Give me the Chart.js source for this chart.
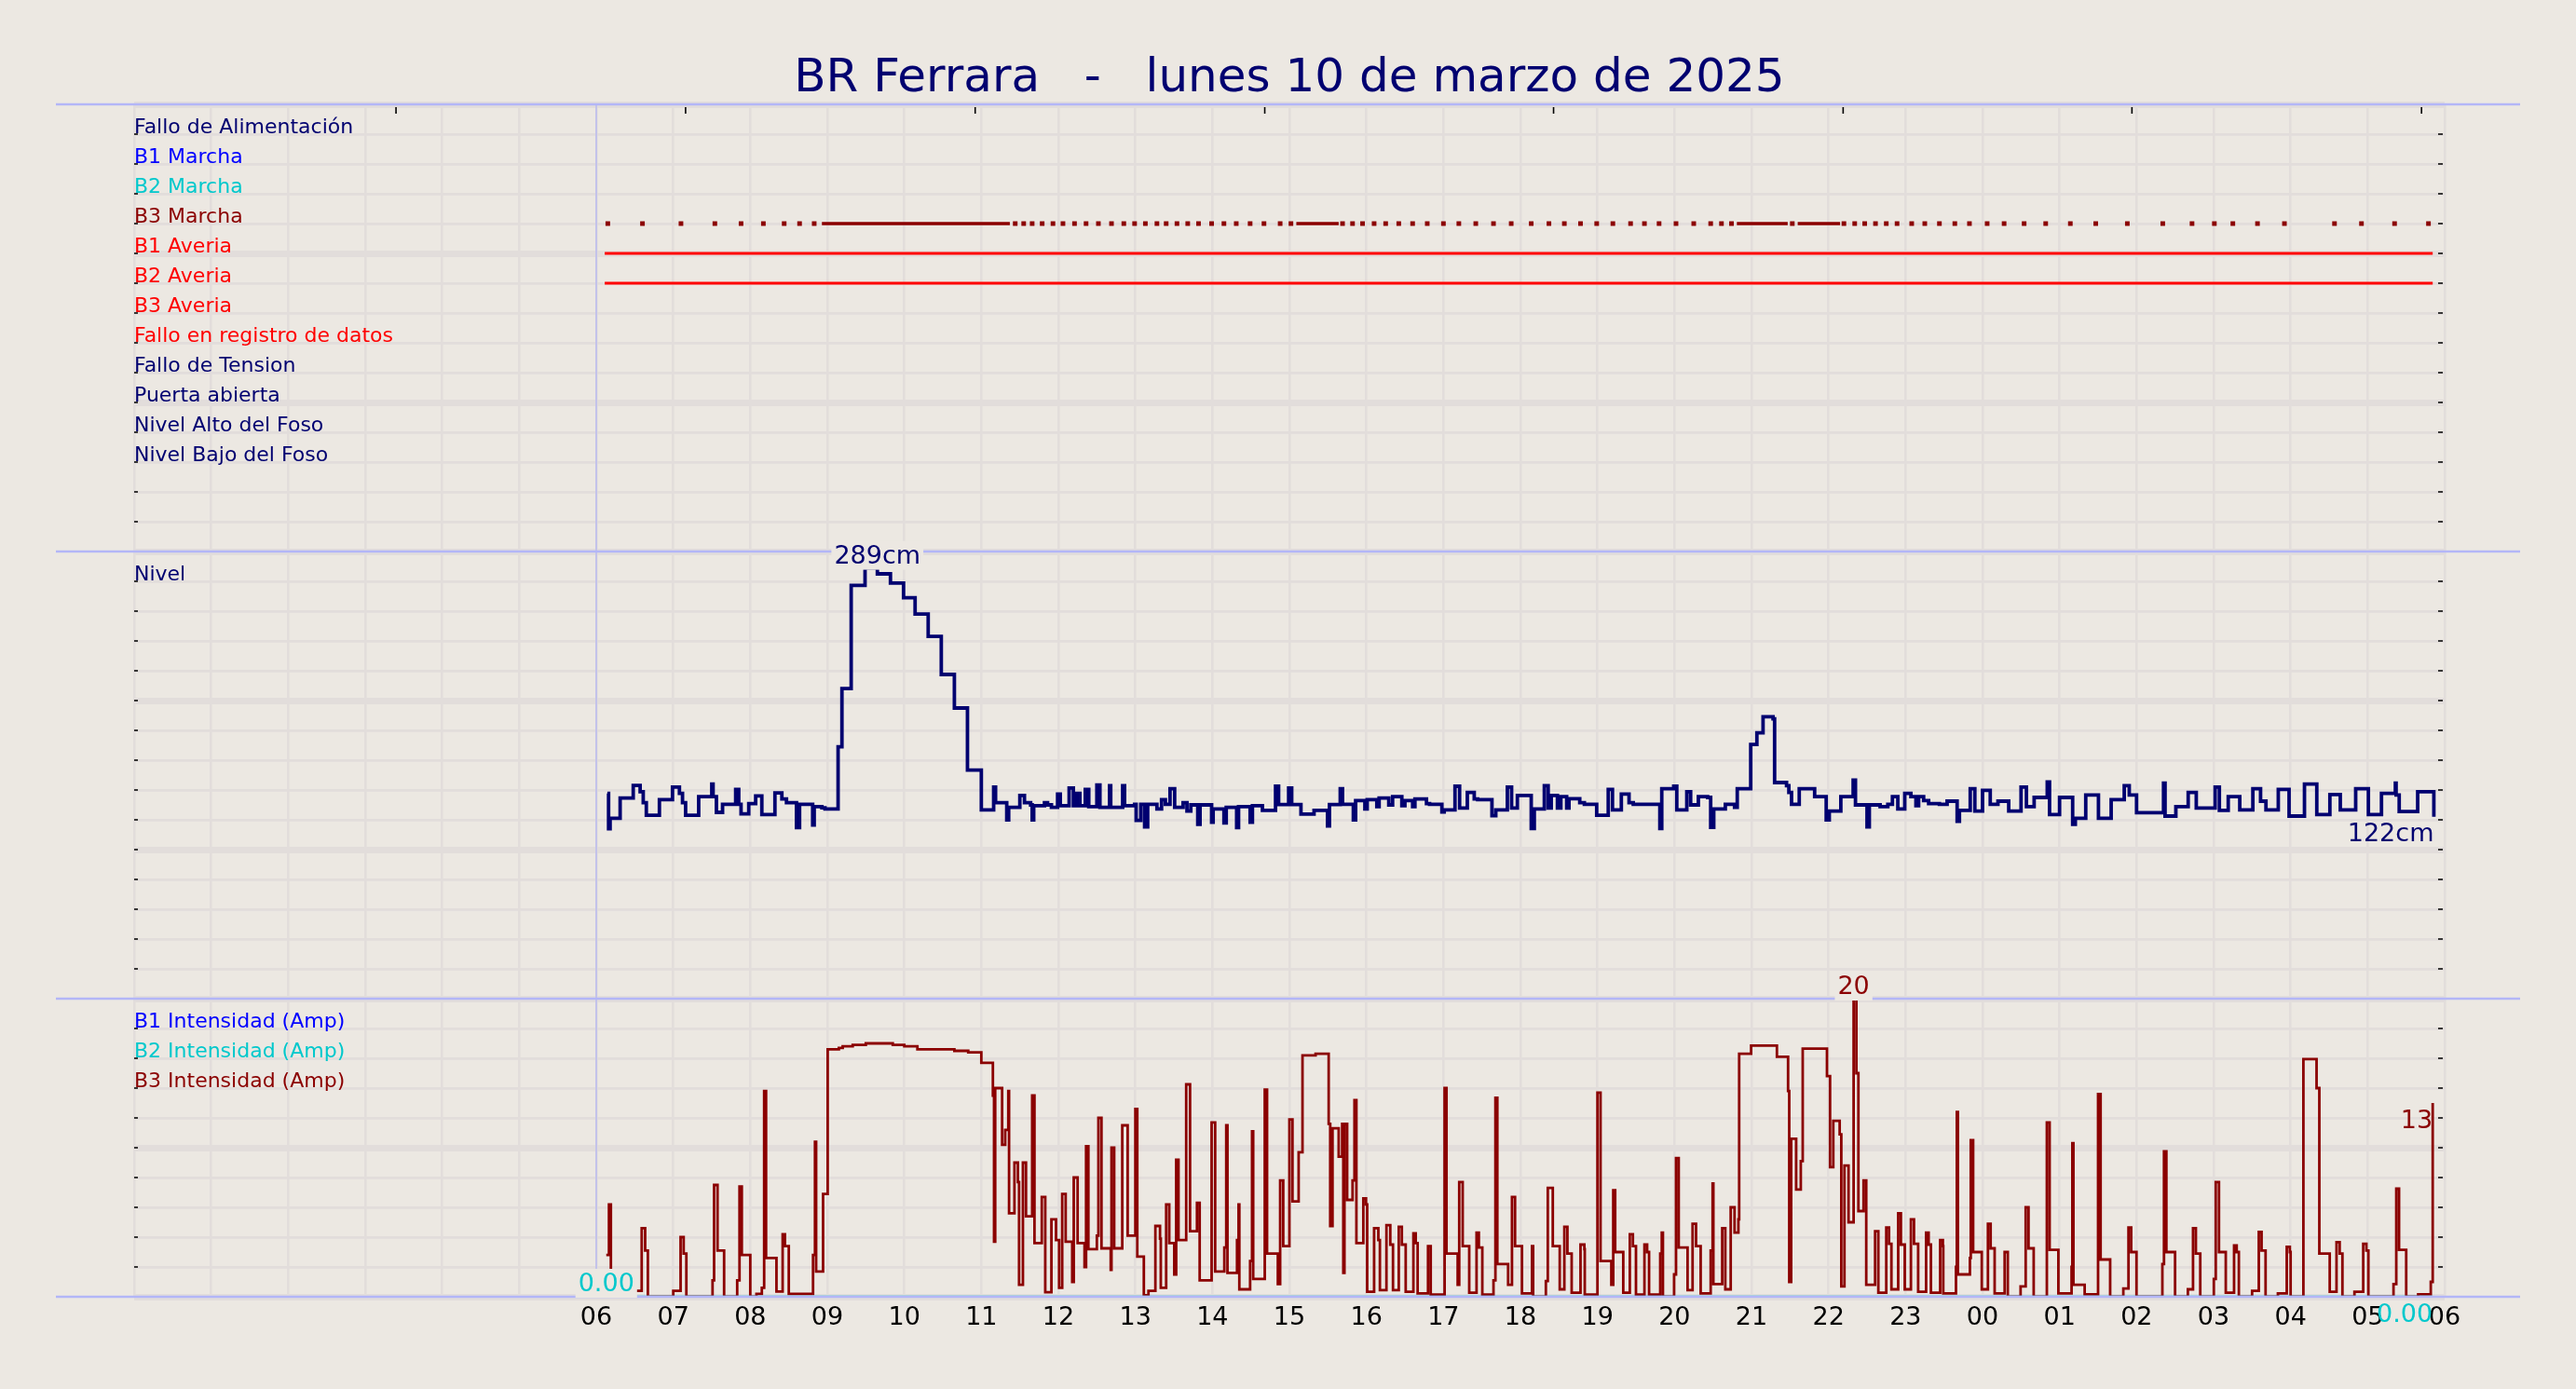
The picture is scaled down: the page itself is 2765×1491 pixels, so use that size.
<!DOCTYPE html>
<html>
<head>
<meta charset="utf-8">
<script src="https://cdn.jsdelivr.net/npm/chart.js@4.4.1/dist/chart.umd.min.js"></script>
<style>
  html, body { margin: 0; padding: 0; background: #ece8e2; }
  canvas { display: block; }
</style>
</head>
<body>
<canvas id="grafico" width="2765" height="1491"></canvas>
<script>
// --- datos ---
const titulo = 'BR Ferrara   -   lunes 10 de marzo de 2025';

const estados = ['Fallo de Alimentación', 'B1 Marcha', 'B2 Marcha', 'B3 Marcha', 'B1 Averia', 'B2 Averia',
  'B3 Averia', 'Fallo en registro de datos', 'Fallo de Tension', 'Puerta abierta', 'Nivel Alto del Foso', 'Nivel Bajo del Foso'];
const estadosColor = ['#000070', '#0000ff', '#00c8cc', '#8b0000', '#ff0000', '#ff0000',
  '#ff0000', '#ff0000', '#000070', '#000070', '#000070', '#000070'];
const estadosFila = [14, 13, 12, 11, 10, 9, 8, 7, 6, 5, 4, 3];

const intensidades = ['B1 Intensidad (Amp)', 'B2 Intensidad (Amp)', 'B3 Intensidad (Amp)'];
const intensidadesColor = ['#0000ff', '#00c8cc', '#8b0000'];
const intensidadesFila = [18, 16, 14];

// eje x: horas desde las 00:00 del día 10
const horasEtiquetas = ['06', '07', '08', '09', '10', '11', '12', '13', '14', '15', '16', '17', '18',
  '19', '20', '21', '22', '23', '00', '01', '02', '03', '04', '05', '06'];
const marcasSuperiores = [3.40, 7.16, 10.92, 14.68, 18.43, 22.19, 25.94, 29.70];

// B3 en marcha: muestras sueltas y tramos continuos
const b3MarchaPuntos = [6.15, 6.60, 7.10, 7.54, 7.88, 8.17, 8.44, 8.64, 8.83, 11.44, 11.55, 11.66, 11.79, 11.93,
  12.06, 12.21, 12.36, 12.52, 12.69, 12.85, 12.99, 13.13, 13.28, 13.40, 13.54, 13.68, 13.82, 13.99, 14.15, 14.31,
  14.49, 14.67, 14.88, 15.02, 15.69, 15.82, 15.95, 16.10, 16.25, 16.42, 16.60, 16.79, 17.00, 17.20, 17.42, 17.65,
  17.88, 18.14, 18.37, 18.57, 18.78, 18.99, 19.20, 19.43, 19.61, 19.80, 20.02, 20.25, 20.47, 20.61, 20.74, 21.53,
  22.20, 22.34, 22.47, 22.61, 22.75, 22.89, 23.08, 23.25, 23.44, 23.64, 23.83, 24.06, 24.28, 24.54, 24.82, 25.14,
  25.47, 25.88, 26.34, 26.72, 27.01, 27.25, 27.57, 27.92, 28.57, 28.92, 29.35, 29.79];
const b3MarchaTramos = [[8.93, 11.37], [15.09, 15.64], [20.81, 21.47], [21.60, 22.15]];
const b1AveriaTramo = [6.11, 29.845];
const b2AveriaTramo = [6.11, 29.845];

// nivel del foso (cm)
const nivelHoras = [
  6.144, 6.16, 6.18, 6.31, 6.48, 6.57, 6.61, 6.65, 6.82, 6.99,
  7.08, 7.12, 7.16, 7.33, 7.50, 7.517, 7.56, 7.64, 7.81, 7.85,
  7.88, 7.98, 8.07, 8.15, 8.32, 8.41, 8.47, 8.60, 8.64, 8.81,
  8.83, 8.93, 8.97, 9.14, 9.19, 9.31, 9.49, 9.65, 9.82, 9.99,
  10.14, 10.31, 10.48, 10.65, 10.82, 11.0, 11.16, 11.185, 11.33, 11.355,
  11.5, 11.56, 11.64, 11.66, 11.68, 11.82, 11.86, 11.91, 11.99, 12.025,
  12.14, 12.195, 12.24, 12.28, 12.35, 12.395, 12.50, 12.54, 12.665, 12.68,
  12.835, 12.86, 12.99, 13.01, 13.07, 13.12, 13.16, 13.28, 13.34, 13.39,
  13.45, 13.51, 13.62, 13.67, 13.72, 13.81, 13.84, 13.99, 14.01, 14.15,
  14.18, 14.315, 14.34, 14.49, 14.52, 14.65, 14.82, 14.86, 14.99, 15.03,
  15.15, 15.32, 15.495, 15.52, 15.66, 15.69, 15.83, 15.86, 15.98, 16.01,
  16.135, 16.165, 16.29, 16.34, 16.46, 16.50, 16.60, 16.63, 16.78, 16.82,
  16.98, 17.01, 17.15, 17.21, 17.31, 17.40, 17.445, 17.63, 17.68, 17.83,
  17.885, 17.96, 18.14, 18.18, 18.31, 18.36, 18.40, 18.48, 18.525, 18.60,
  18.63, 18.77, 18.83, 18.99, 19.14, 19.195, 19.31, 19.41, 19.465, 19.81,
  19.835, 19.99, 20.03, 20.16, 20.21, 20.31, 20.43, 20.47, 20.51, 20.66,
  20.78, 20.815, 20.99, 21.07, 21.15, 21.28, 21.30, 21.455, 21.485, 21.52,
  21.62, 21.82, 21.97, 22.01, 22.16, 22.32, 22.35, 22.50, 22.53, 22.67,
  22.77, 22.83, 22.90, 22.99, 23.07, 23.135, 23.17, 23.235, 23.30, 23.44,
  23.54, 23.67, 23.70, 23.84, 23.90, 24.00, 24.10, 24.20, 24.34, 24.50,
  24.57, 24.67, 24.84, 24.87, 25.00, 25.17, 25.205, 25.34, 25.505, 25.67,
  25.84, 25.905, 26.00, 26.35, 26.37, 26.51, 26.67, 26.775, 27.02, 27.075,
  27.19, 27.34, 27.51, 27.61, 27.68, 27.84, 27.98, 28.18, 28.34, 28.51,
  28.645, 28.845, 29.01, 29.18, 29.36, 29.37, 29.41, 29.65, 29.86];
const nivelCm = [
  137.7, 114, 121, 134.6, 143, 138.8, 131.5, 123, 133.5, 141.9,
  137.7, 131.5, 123, 135.6, 144, 135.6, 125, 130.4, 140.4, 130.4,
  124, 130.8, 136, 123.5, 138, 134, 131.5, 114.8, 130.4, 116.5,
  128.8, 128, 127.3, 169, 208, 277.3, 289, 285, 278.8, 269,
  258, 243, 217.5, 195, 153.3, 126.7, 141.9, 131.5, 120, 128.3,
  136.3, 131.5, 130, 120, 129.4, 131.5, 130, 128.3, 137.3, 129.4,
  141.3, 129.4, 137.7, 129.4, 140.4, 128.8, 143.3, 128.3, 142.9, 128.3,
  142.9, 129.4, 130.4, 119.6, 130.4, 115.2, 130.4, 127.3, 133.5, 130.4,
  140.8, 128.3, 131.5, 125.8, 130, 116.9, 130, 118.3, 127.3, 117.9,
  128.3, 114.8, 128.8, 118.3, 129.4, 126.3, 142.5, 130.2, 141.3, 130.2,
  123.8, 126.3, 115.8, 130.2, 140.8, 130.4, 120, 132.9, 127.3, 133.5,
  128.8, 134.6, 130, 135.6, 129.4, 132.9, 128.8, 134, 130.8, 130.4,
  125.2, 126.7, 142.5, 127.9, 138.3, 134, 133.5, 122.7, 126.7, 141.9,
  127.9, 136.3, 114.2, 127.3, 142.9, 127.9, 136.3, 127.9, 135.6, 127.9,
  134.2, 131.5, 130.4, 123.1, 140.4, 126.7, 137.3, 131.5, 130.4, 114.2,
  140.8, 142.5, 126.7, 138.8, 130, 135.6, 135, 115, 127.3, 130.4,
  128.3, 140.8, 170.6, 178.3, 189.2, 187.7, 145, 142.9, 138.3, 130.4,
  140.8, 135.6, 120, 125.8, 135.6, 146.7, 130, 115.2, 130, 128.8,
  130.4, 135.6, 127.3, 137.7, 135.6, 129.4, 135.6, 132.9, 130.8, 130.4,
  132.5, 119, 126.3, 140.8, 125.8, 139.8, 130.4, 132.5, 125.8, 141.9,
  128.8, 135, 145.4, 123.5, 135, 116.9, 121, 136.7, 121, 133.5,
  142.9, 136.7, 124.8, 144.6, 122.5, 128.8, 138.3, 127.9, 141.9, 126.3,
  135.6, 126.7, 140.8, 132.5, 126.7, 140.4, 122.5, 144, 123.5, 137,
  126.7, 140.8, 123.5, 137.7, 144.6, 136.7, 125.6, 138.8, 122];

// intensidad B3 (A)
const b3Horas = [
  6.13, 6.165, 6.19, 6.59, 6.635, 6.67, 7.00, 7.095, 7.135, 7.17,
  7.51, 7.53, 7.575, 7.66, 7.83, 7.86, 7.89, 8.00, 8.08, 8.15,
  8.18, 8.205, 8.34, 8.42, 8.45, 8.50, 8.815, 8.84, 8.855, 8.945,
  9.005, 9.15, 9.20, 9.33, 9.50, 9.85, 10.00, 10.17, 10.65, 10.83,
  11.00, 11.15, 11.165, 11.18, 11.27, 11.31, 11.35, 11.36, 11.43, 11.475,
  11.49, 11.54, 11.58, 11.66, 11.69, 11.785, 11.83, 11.91, 11.97, 12.01,
  12.05, 12.095, 12.18, 12.20, 12.25, 12.34, 12.36, 12.39, 12.50, 12.52,
  12.56, 12.68, 12.69, 12.725, 12.83, 12.90, 13.00, 13.025, 13.11, 13.17,
  13.26, 13.32, 13.33, 13.40, 13.44, 13.505, 13.53, 13.56, 13.66, 13.71,
  13.80, 13.835, 13.99, 14.036, 14.155, 14.18, 14.196, 14.32, 14.34, 14.35,
  14.49, 14.515, 14.53, 14.68, 14.71, 14.85, 14.88, 14.92, 15.00, 15.04,
  15.12, 15.17, 15.34, 15.51, 15.53, 15.56, 15.64, 15.685, 15.70, 15.715,
  15.75, 15.82, 15.845, 15.87, 15.96, 15.995, 16.01, 16.10, 16.155, 16.175,
  16.26, 16.31, 16.345, 16.42, 16.46, 16.51, 16.61, 16.64, 16.665, 16.80,
  16.835, 17.015, 17.04, 17.185, 17.205, 17.25, 17.335, 17.43, 17.46, 17.505,
  17.65, 17.675, 17.70, 17.84, 17.89, 17.93, 18.02, 18.15, 18.165, 18.33,
  18.355, 18.42, 18.51, 18.57, 18.61, 18.665, 18.78, 18.83, 18.835, 19.00,
  19.04, 19.18, 19.205, 19.23, 19.335, 19.42, 19.46, 19.50, 19.61, 19.645,
  19.67, 19.815, 19.835, 19.85, 19.995, 20.02, 20.055, 20.17, 20.235, 20.28,
  20.34, 20.47, 20.495, 20.505, 20.62, 20.66, 20.73, 20.78, 20.83, 20.84,
  20.995, 21.33, 21.475, 21.49, 21.515, 21.58, 21.64, 21.665, 21.98, 22.02,
  22.062, 22.145, 22.166, 22.207, 22.26, 22.326, 22.362, 22.388, 22.455, 22.49,
  22.605, 22.647, 22.75, 22.786, 22.817, 22.905, 22.94, 22.99, 23.07, 23.11,
  23.164, 23.267, 23.30, 23.33, 23.45, 23.485, 23.49, 23.655, 23.666, 23.68,
  23.836, 23.847, 23.878, 23.99, 24.07, 24.105, 24.157, 24.287, 24.328, 24.494,
  24.56, 24.597, 24.664, 24.835, 24.871, 24.985, 25.156, 25.166, 25.18, 25.326,
  25.50, 25.533, 25.657, 25.828, 25.895, 25.93, 25.999, 26.335, 26.356, 26.387,
  26.50, 26.666, 26.733, 26.77, 26.827, 27.003, 27.028, 27.07, 27.158, 27.266,
  27.30, 27.328, 27.50, 27.587, 27.623, 27.675, 27.835, 27.95, 27.99, 28.0,
  28.166, 28.337, 28.373, 28.508, 28.596, 28.637, 28.673, 28.829, 28.943, 28.984,
  29.01, 29.336, 29.372, 29.408, 29.501, 29.656, 29.82, 29.845];
const b3Amp = [
  2.8, 6.2, 0.4, 4.6, 3.1, 0, 0.4, 4.0, 2.9, 0,
  1.1, 7.5, 3.1, 0, 1.1, 7.4, 2.8, 0, 0.2, 0.6,
  13.8, 2.6, 0.35, 4.2, 3.4, 0.2, 2.8, 10.4, 1.7, 6.9,
  16.6, 16.7, 16.8, 16.9, 17.0, 16.9, 16.8, 16.6, 16.5, 16.4,
  15.7, 13.5, 3.7, 14.0, 10.2, 11.2, 13.8, 5.6, 9.0, 7.7,
  0.8, 9.0, 5.4, 13.5, 3.6, 6.7, 0.3, 5.2, 3.8, 0.6,
  6.9, 3.7, 1.0, 8.0, 3.6, 2.0, 10.1, 3.2, 4.1, 12.0,
  3.25, 1.8, 10.0, 3.25, 11.5, 4.1, 12.6, 2.7, 0.1, 0.4,
  4.75, 3.9, 0.6, 6.2, 3.6, 1.5, 9.2, 3.8, 14.25, 4.4,
  6.3, 1.1, 11.7, 1.7, 3.3, 11.5, 1.6, 3.8, 6.2, 0.5,
  2.4, 11.1, 1.2, 13.9, 2.9, 0.85, 7.8, 3.4, 11.9, 6.4,
  9.7, 16.2, 16.3, 11.6, 4.75, 11.3, 9.4, 11.6, 1.6, 11.6,
  6.5, 7.8, 13.2, 3.6, 6.6, 6.2, 0.33, 4.6, 3.8, 0.44,
  4.8, 3.5, 0.44, 4.7, 3.5, 0.33, 4.25, 3.6, 0.23, 3.4,
  0.15, 14.0, 2.9, 0.8, 7.7, 3.4, 0.27, 4.3, 3.3, 0.15,
  1.1, 13.35, 2.2, 0.8, 6.7, 3.4, 0.23, 3.4, 0, 1.06,
  7.3, 3.4, 0.5, 4.7, 2.9, 0.27, 3.5, 3.2, 0.15, 13.7,
  2.4, 0.8, 7.15, 3.0, 0.27, 4.2, 3.4, 0.15, 3.5, 3.0,
  0.15, 2.9, 4.3, 0, 1.5, 9.3, 3.3, 0.44, 4.9, 3.4,
  0.23, 3.1, 7.6, 0.85, 4.6, 0.5, 6.0, 4.3, 5.2, 16.3,
  16.85, 16.1, 13.8, 1.0, 10.6, 7.2, 9.1, 16.65, 14.8, 8.7,
  11.8, 10.9, 0.7, 8.8, 5.0, 20, 15.0, 5.75, 7.8, 0.8,
  4.4, 0.27, 4.65, 3.56, 0.5, 5.6, 3.5, 0.5, 5.2, 3.56,
  0.33, 4.3, 3.5, 0.27, 3.8, 3.4, 0.23, 2.0, 12.4, 1.5,
  2.6, 10.5, 3.0, 0.5, 4.9, 3.25, 0.23, 3.0, 0, 0.7,
  6.0, 3.25, 0, 11.7, 3.15, 0.23, 2.0, 10.3, 0.8, 0.17,
  13.6, 2.5, 0, 0.55, 4.65, 3.0, 0, 2.2, 9.75, 3.0,
  0, 0.5, 4.6, 2.9, 0, 1.2, 7.7, 3.0, 0.27, 3.45,
  3.0, 0, 0.4, 4.35, 3.1, 0, 0.23, 3.35, 3.0, 0,
  15.95, 14.0, 2.9, 0.33, 3.67, 2.9, 0, 0.33, 3.56, 3.1,
  0, 0.85, 7.25, 3.15, 0, 0.17, 1.0, 13];

// intensidad B2 (A): sin consumo
const b2Horas = [6.13, 29.845];
const b2Amp = [0, 0];

// --- estilo ---
const fondo = '#ece8e2';
const rejilla = '#e2dddb';
const lavanda = '#bcbcee';
const separador = '#b3b6f7';
const marino = '#000070';
const granate = '#8b0000';
const rojo = '#ff0000';
const cian = '#00c8cc';
const fuente = 'DejaVu Sans';

Chart.defaults.font.family = fuente;

const pares = (xs, ys) => xs.map((x, i) => ({ x: x, y: ys[i] }));
const filaB3 = estadosFila[3];

function etiqueta(ctx, s, x, y, color, alinear, caja) {
  ctx.font = '27px "' + fuente + '"';
  ctx.textAlign = 'left';
  ctx.textBaseline = 'alphabetic';
  const w = ctx.measureText(s).width;
  const x0 = alinear === 'center' ? x - w / 2 : alinear === 'right' ? x - w : x;
  if (caja) {
    ctx.fillStyle = fondo;
    ctx.fillRect(x0 - 3, y - 24, w + 6, 31);
  }
  ctx.fillStyle = color;
  ctx.fillText(s, x0, y);
}

const decorado = {
  id: 'decorado',
  beforeDraw(chart) {
    const c = chart.ctx;
    c.save();
    c.fillStyle = fondo;
    c.fillRect(0, 0, chart.width, chart.height);
    c.restore();
  },
  beforeDatasetsDraw(chart) {
    const { ctx, chartArea: a, scales } = chart;
    ctx.save();
    // línea de inicio del día
    const x6 = scales.x.getPixelForValue(6);
    ctx.strokeStyle = lavanda;
    ctx.lineWidth = 1.6;
    ctx.beginPath();
    ctx.moveTo(x6, a.top);
    ctx.lineTo(x6, a.bottom);
    ctx.stroke();
    // marcas de los ejes
    ctx.strokeStyle = '#000';
    ctx.lineWidth = 1.6;
    ctx.beginPath();
    ['yEstado', 'yNivel', 'yAmp'].forEach(id => {
      const s = scales[id];
      s.ticks.forEach(t => {
        const y = s.getPixelForValue(t.value);
        ctx.moveTo(a.left, y); ctx.lineTo(a.left + 4, y);
        ctx.moveTo(a.right - 7, y); ctx.lineTo(a.right - 2, y);
      });
    });
    marcasSuperiores.forEach(h => {
      const x = scales.x.getPixelForValue(h);
      ctx.moveTo(x, a.top + 3); ctx.lineTo(x, a.top + 10);
    });
    ctx.stroke();
    // nombres de las señales
    ctx.font = '22px "' + fuente + '"';
    ctx.textAlign = 'left';
    ctx.textBaseline = 'alphabetic';
    estados.forEach((s, k) => {
      ctx.fillStyle = estadosColor[k];
      ctx.fillText(s, a.left, scales.yEstado.getPixelForValue(estadosFila[k]) - 1);
    });
    ctx.fillStyle = marino;
    ctx.fillText('Nivel', a.left, scales.yNivel.getPixelForValue(280) - 1);
    intensidades.forEach((s, k) => {
      ctx.fillStyle = intensidadesColor[k];
      ctx.fillText(s, a.left, scales.yAmp.getPixelForValue(intensidadesFila[k]) - 1);
    });
    ctx.restore();
  },
  afterDatasetsDraw(chart) {
    const { ctx, chartArea: a, scales } = chart;
    const sx = scales.x;
    ctx.save();
    // separadores entre paneles
    ctx.strokeStyle = separador;
    ctx.lineWidth = 2.4;
    ctx.beginPath();
    [scales.yEstado.top, scales.yNivel.top, scales.yAmp.top, scales.yAmp.bottom].forEach(y => {
      ctx.moveTo(a.left - 84, y); ctx.lineTo(a.right + 81, y);
    });
    ctx.stroke();

    // máximo (al cierre de su escalón) y último valor del nivel
    const iN = nivelCm.indexOf(Math.max(...nivelCm));
    const xN = sx.getPixelForValue(nivelHoras[iN + 1]);
    etiqueta(ctx, Math.round(nivelCm[iN]) + 'cm', xN, scales.yNivel.getPixelForValue(nivelCm[iN]) - 5, marino, 'center', true);
    const nN = nivelCm.length - 1;
    etiqueta(ctx, Math.round(nivelCm[nN]) + 'cm', sx.getPixelForValue(nivelHoras[nN]), scales.yNivel.getPixelForValue(nivelCm[nN]) + 26, marino, 'right', false);

    // máximo y último valor de B3
    const iB = b3Amp.indexOf(Math.max(...b3Amp));
    const xB = sx.getPixelForValue(b3Horas[iB]);
    etiqueta(ctx, String(Math.round(b3Amp[iB])), xB, scales.yAmp.getPixelForValue(b3Amp[iB]) - 5, granate, 'center', true);
    const nB = b3Amp.length - 1;
    etiqueta(ctx, String(Math.round(b3Amp[nB])), sx.getPixelForValue(b3Horas[nB]), scales.yAmp.getPixelForValue(b3Amp[nB]) + 27, granate, 'right', false);

    // primer y último valor de B2
    etiqueta(ctx, b2Amp[0].toFixed(2), sx.getPixelForValue(b2Horas[0]), scales.yAmp.getPixelForValue(b2Amp[0]) - 6, cian, 'center', true);
    const n2 = b2Amp.length - 1;
    etiqueta(ctx, b2Amp[n2].toFixed(2), sx.getPixelForValue(b2Horas[n2]), scales.yAmp.getPixelForValue(b2Amp[n2]) + 27, cian, 'right', false);
    ctx.restore();
  },
  afterDraw(chart) {
    const { ctx, chartArea: a } = chart;
    ctx.save();
    ctx.font = '50px "' + fuente + '"';
    ctx.fillStyle = marino;
    ctx.textAlign = 'center';
    ctx.textBaseline = 'alphabetic';
    ctx.fillText(titulo, (a.left + a.right) / 2, 98);
    ctx.restore();
  }
};

const gridY = {
  color: rejilla,
  lineWidth: c => (c.index % 5 === 0 ? 7 : 2.8),
  drawTicks: false
};

new Chart(document.getElementById('grafico'), {
  type: 'line',
  data: {
    datasets: [
      {
        label: 'B1 Averia', yAxisID: 'yEstado',
        data: b1AveriaTramo.map(h => ({ x: h, y: estadosFila[4] })),
        borderColor: rojo, borderWidth: 3.2, pointRadius: 0
      },
      {
        label: 'B2 Averia', yAxisID: 'yEstado',
        data: b2AveriaTramo.map(h => ({ x: h, y: estadosFila[5] })),
        borderColor: rojo, borderWidth: 3.2, pointRadius: 0
      },
      {
        label: 'B3 Marcha tramos', yAxisID: 'yEstado',
        data: b3MarchaTramos.flatMap(([s, e]) => [{ x: s, y: filaB3 }, { x: e, y: filaB3 }, { x: e, y: null }]),
        borderColor: granate, borderWidth: 3.4, pointRadius: 0, spanGaps: false, borderCapStyle: 'butt'
      },
      {
        label: 'B3 Marcha', yAxisID: 'yEstado',
        data: b3MarchaPuntos.map(h => ({ x: h, y: filaB3 })),
        showLine: false, pointStyle: 'rect', pointRadius: 3.5,
        pointBackgroundColor: granate, pointBorderWidth: 0
      },
      {
        label: 'Nivel', yAxisID: 'yNivel',
        data: pares(nivelHoras, nivelCm),
        borderColor: marino, borderWidth: 3.8, pointRadius: 0, stepped: true, borderJoinStyle: 'miter'
      },
      {
        label: 'B2 Intensidad (Amp)', yAxisID: 'yAmp',
        data: pares(b2Horas, b2Amp),
        borderColor: cian, borderWidth: 2.4, pointRadius: 0, stepped: true
      },
      {
        label: 'B3 Intensidad (Amp)', yAxisID: 'yAmp',
        data: pares(b3Horas, b3Amp),
        borderColor: granate, borderWidth: 2.8, pointRadius: 0, stepped: true, borderJoinStyle: 'miter'
      }
    ]
  },
  options: {
    responsive: false,
    animation: false,
    events: [],
    layout: { padding: { top: 112, left: 144, right: 141, bottom: 0 } },
    plugins: {
      legend: { display: false },
      tooltip: { enabled: false },
      title: { display: false }
    },
    scales: {
      x: {
        type: 'linear', position: 'bottom', min: 0, max: 30,
        afterFit: s => { s.height = 99; },
        border: { display: false },
        grid: { color: rejilla, lineWidth: 2.6, drawTicks: false },
        ticks: {
          stepSize: 1, autoSkip: false, maxRotation: 0, padding: 7, color: '#000',
          font: { size: 27 },
          callback: v => (v >= 6 ? horasEtiquetas[v - 6] : '')
        }
      },
      yEstado: {
        type: 'linear', position: 'left', stack: 'paneles', stackWeight: 1.5, weight: 3,
        min: 0, max: 15, afterFit: s => { s.width = 0; },
        border: { display: false }, grid: gridY, ticks: { display: false, stepSize: 1 }
      },
      yNivel: {
        type: 'linear', position: 'left', stack: 'paneles', stackWeight: 1.5, weight: 2,
        min: 0, max: 300, afterFit: s => { s.width = 0; },
        border: { display: false }, grid: gridY, ticks: { display: false, stepSize: 20 }
      },
      yAmp: {
        type: 'linear', position: 'left', stack: 'paneles', stackWeight: 1, weight: 1,
        min: 0, max: 20, afterFit: s => { s.width = 0; },
        border: { display: false }, grid: gridY, ticks: { display: false, stepSize: 2 }
      }
    }
  },
  plugins: [decorado]
});
</script>
</body>
</html>
